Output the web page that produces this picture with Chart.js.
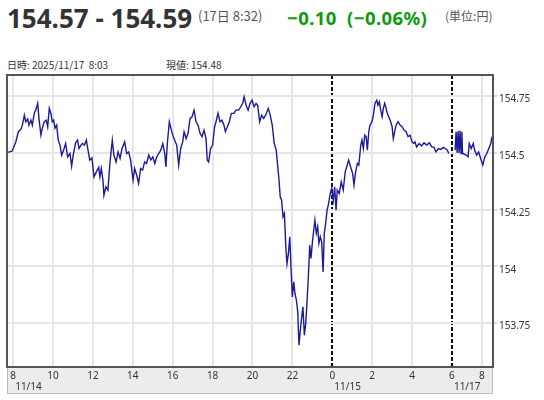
<!DOCTYPE html>
<html lang="ja">
<head>
<meta charset="utf-8">
<script src="https://cdn.jsdelivr.net/npm/chart.js@4.4.1/dist/chart.umd.min.js"></script>
<style>
  html, body { margin: 0; padding: 0; background: #fff; }
  body { width: 544px; height: 400px; position: relative; overflow: hidden; font-family: "Noto Sans CJK JP", "Noto Sans", sans-serif; }
  .hd { position: absolute; white-space: pre; line-height: 1; }
  #price { left: 7px; top: 0px; font: bold 26px "Noto Sans", sans-serif; color: #333; }
  #stamp { left: 198px; top: 9px; font-size: 13px; color: #555; }
  #change { left: 287px; top: 5px; font: bold 18.5px "Noto Sans", sans-serif; color: #0c9a0c; letter-spacing: 0.4px; }
  #unit { left: 445px; top: 10px; font-size: 12px; color: #555; }
  #when { left: 7px; top: 60px; font-size: 10px; color: #333; }
  #now { left: 166px; top: 60px; font-size: 10px; color: #333; }
  #chart { position: absolute; left: 0; top: 0; }
</style>
</head>
<body>
<div class="hd" id="price">154.57 - 154.59</div>
<div class="hd" id="stamp">(17日 8:32)</div>
<div class="hd" id="change">−0.10  (−0.06%)</div>
<div class="hd" id="unit">(単位:円)</div>
<div class="hd" id="when">日時: 2025/11/17  8:03</div>
<div class="hd" id="now">現値: 154.48</div>
<canvas id="chart" width="544" height="400"></canvas>
<script>
// x values are hours on the session timeline (11/14 8:00 = 8, 11/15 0:00 = 24, weekend removed)
const hourTicks = [8, 10, 12, 14, 16, 18, 20, 22, 24, 26, 28, 30, 31.5];
const hourLabels = ["8", "10", "12", "14", "16", "18", "20", "22", "0", "2", "4", "6", "8"];
const dateTicks = [8, 24, 30];
const dateLabels = ["11/14", "11/15", "11/17"];
const sessionBreaks = [24, 30];
const priceTicks = [153.75, 154, 154.25, 154.5, 154.75];

// 11/14 - 11/15 session
const fridayTimes = [
  7.69, 7.76, 7.94, 8.01, 8.13, 8.26, 8.39, 8.46, 8.56, 8.63, 8.73, 8.79, 8.89, 8.96, 9.06, 9.13,
  9.23, 9.29, 9.39, 9.46, 9.56, 9.66, 9.73, 9.81, 9.90, 9.96, 10.03, 10.10, 10.18, 10.26, 10.35,
  10.43, 10.53, 10.63, 10.73, 10.85, 10.93, 11.01, 11.13, 11.23, 11.30, 11.40, 11.47, 11.57, 11.67, 11.74,
  11.84, 11.95, 12.05, 12.17, 12.29, 12.35, 12.42, 12.50, 12.55, 12.65, 12.75, 12.85, 12.97, 13.05,
  13.16, 13.26, 13.36, 13.46, 13.59, 13.69, 13.79, 13.89, 14.01, 14.09, 14.19, 14.29, 14.39, 14.49,
  14.59, 14.69, 14.80, 14.90, 15.00, 15.10, 15.20, 15.30, 15.40, 15.50, 15.60, 15.66, 15.73, 15.83, 15.93, 16.03,
  16.14, 16.20, 16.30, 16.40, 16.50, 16.57, 16.67, 16.77, 16.87, 16.97, 17.07, 17.17, 17.27, 17.37,
  17.47, 17.57, 17.67, 17.73, 17.80, 17.90, 18.00, 18.10, 18.17, 18.27, 18.37, 18.47, 18.57, 18.64,
  18.74, 18.84, 18.94, 19.07, 19.17, 19.31, 19.41, 19.51, 19.58, 19.68, 19.78, 19.88, 19.98, 20.08,
  20.18, 20.26, 20.36, 20.46, 20.56, 20.66, 20.79, 20.89, 20.99,
  21.09, 21.19, 21.26, 21.33, 21.39, 21.46, 21.53, 21.60, 21.67, 21.73, 21.80, 21.87, 21.93, 22.00,
  22.07, 22.13, 22.20, 22.27, 22.33, 22.40, 22.47, 22.53, 22.60, 22.67, 22.73, 22.80, 22.87, 22.93,
  23.00, 23.07, 23.13, 23.20, 23.27, 23.33, 23.40, 23.47, 23.54, 23.60, 23.67, 23.74, 23.80, 23.90, 23.97,
  24.05, 24.12, 24.19, 24.25, 24.35, 24.45, 24.55, 24.65, 24.75, 24.82, 24.92, 25.02, 25.09, 25.16,
  25.26, 25.33, 25.43, 25.49, 25.56, 25.63, 25.70, 25.76, 25.83, 25.89, 25.99, 26.06, 26.14, 26.23,
  26.29, 26.36, 26.43, 26.50, 26.56, 26.63, 26.70, 26.76, 26.83, 26.93, 27.00, 27.06, 27.13, 27.20,
  27.30, 27.40, 27.50, 27.60, 27.70, 27.80, 27.90, 28.00, 28.08, 28.15, 28.23, 28.36, 28.48, 28.60,
  28.74, 28.87, 28.99, 29.10, 29.20, 29.32, 29.44, 29.57, 29.67, 29.77, 29.84
];
const fridayPrices = [
  154.504, 154.503, 154.507, 154.521, 154.548, 154.593, 154.604, 154.622, 154.666, 154.637, 154.649, 154.622, 154.644, 154.622, 154.676, 154.688,
  154.718, 154.653, 154.578, 154.609, 154.637, 154.644, 154.615, 154.696, 154.671, 154.637, 154.644, 154.609, 154.622, 154.556, 154.534,
  154.490, 154.512, 154.541, 154.482, 154.497, 154.441, 154.490, 154.544, 154.556, 154.519, 154.534, 154.541, 154.534, 154.556, 154.519,
  154.468, 154.477, 154.394, 154.416, 154.436, 154.394, 154.431, 154.380, 154.313, 154.350, 154.336, 154.453, 154.556, 154.490,
  154.460, 154.504, 154.475, 154.519, 154.548, 154.497, 154.504, 154.468, 154.380, 154.431, 154.402, 154.365, 154.431, 154.424,
  154.460, 154.453, 154.490, 154.468, 154.482, 154.453, 154.482, 154.497, 154.512, 154.541, 154.497, 154.438, 154.541, 154.637, 154.600, 154.571,
  154.547, 154.534, 154.446, 154.519, 154.548, 154.593, 154.563, 154.586, 154.652, 154.659, 154.688, 154.637, 154.622, 154.586,
  154.571, 154.600, 154.563, 154.468, 154.460, 154.519, 154.534, 154.615, 154.637, 154.674, 154.637, 154.644, 154.622, 154.593,
  154.615, 154.637, 154.674, 154.674, 154.688, 154.688, 154.703, 154.718, 154.747, 154.710, 154.688, 154.718, 154.732, 154.703,
  154.718, 154.710, 154.637, 154.666, 154.652, 154.666, 154.696, 154.666, 154.622,
  154.541, 154.512, 154.446, 154.380, 154.306, 154.291, 154.218, 154.233, 154.086, 154.012, 154.056, 154.130, 153.997, 153.865,
  153.931, 153.880, 153.851, 153.799, 153.652, 153.718, 153.777, 153.821, 153.696, 153.748, 153.836, 153.953, 154.093, 154.034,
  154.101, 154.159, 154.203, 154.145, 154.174, 154.101, 154.130, 154.108, 153.975, 154.145, 154.189, 154.247, 154.269, 154.321, 154.343,
  154.291, 154.350, 154.247, 154.336, 154.321, 154.372, 154.336, 154.416, 154.446, 154.468, 154.438, 154.409, 154.358, 154.409,
  154.453, 154.446, 154.534, 154.556, 154.519, 154.578, 154.571, 154.512, 154.593, 154.622, 154.637, 154.666, 154.718, 154.732,
  154.710, 154.725, 154.688, 154.659, 154.696, 154.718, 154.696, 154.674, 154.659, 154.637, 154.615, 154.563, 154.593, 154.622,
  154.637, 154.622, 154.615, 154.600, 154.593, 154.571, 154.578, 154.548, 154.541, 154.548, 154.526, 154.541, 154.530, 154.544,
  154.534, 154.544, 154.526, 154.524, 154.504, 154.519, 154.515, 154.524, 154.519, 154.512, 154.497
];

// 11/17 session
const mondayTimes = [
  30.16, 30.21, 30.26, 30.31, 30.36, 30.41, 30.46, 30.50, 30.53, 30.61, 30.71, 30.81, 30.87,
  30.97, 31.07, 31.14, 31.24, 31.34, 31.44, 31.55, 31.65, 31.75, 31.85, 31.95, 32.01
];
const mondayPrices = [
  154.512, 154.593, 154.501, 154.596, 154.499, 154.597, 154.497, 154.593, 154.499, 154.494, 154.490, 154.482, 154.541,
  154.519, 154.541, 154.512, 154.490, 154.504, 154.475, 154.446, 154.482, 154.497, 154.519, 154.541, 154.571
];

const LINE = "#1b1b9a";
const tickFont = { family: "Noto Sans", size: 10 };
const isBreak = c => c.tick && sessionBreaks.includes(c.tick.value);

const frame = {
  id: "frame",
  beforeDraw(chart) {
    const { ctx, chartArea: a, scales: { x } } = chart;
    ctx.save();
    ctx.fillStyle = "#ececec";
    ctx.fillRect(a.left, a.bottom, a.right - a.left, x.bottom - a.bottom);
    ctx.strokeStyle = "#bdbdbd";
    ctx.lineWidth = 1;
    ctx.strokeRect(a.left + 0.5, a.bottom, a.right - a.left - 1, x.bottom - a.bottom - 0.5);
    ctx.restore();
  },
  afterDraw(chart) {
    const { ctx, chartArea: a, scales: { x } } = chart;
    ctx.save();
    ctx.strokeStyle = "#555";
    ctx.lineWidth = 2;
    ctx.strokeRect(a.left, a.top, a.right - a.left, a.bottom - a.top);
    ctx.fillStyle = "#333";
    ctx.font = "10px 'Noto Sans'";
    ctx.textAlign = "left";
    ctx.textBaseline = "middle";
    dateTicks.forEach((v, i) => ctx.fillText(dateLabels[i], x.getPixelForValue(v) + 2, a.bottom + 20));
    ctx.restore();
  }
};

new Chart(document.getElementById("chart"), {
  type: "line",
  data: {
    datasets: [
      { data: fridayTimes.map((t, i) => ({ x: t, y: fridayPrices[i] })), borderColor: LINE, borderWidth: 1.4, pointRadius: 0, tension: 0 },
      { data: mondayTimes.map((t, i) => ({ x: t, y: mondayPrices[i] })), borderColor: LINE, borderWidth: 1.4, pointRadius: 0, tension: 0 }
    ]
  },
  options: {
    responsive: false,
    animation: false,
    layout: { padding: { left: 7, top: 75, right: 0, bottom: 6 } },
    plugins: { legend: { display: false }, tooltip: { enabled: false } },
    scales: {
      x: {
        type: "linear",
        min: 7.69,
        max: 32.06,
        afterBuildTicks: s => { s.ticks = hourTicks.map(v => ({ value: v })); },
        afterFit: s => { s.height = 27; },
        ticks: { autoSkip: false, maxRotation: 0, padding: 3, color: "#333", font: tickFont, callback: (v, i) => hourLabels[i] },
        grid: { color: c => isBreak(c) ? "#111" : "#e6e6e6", lineWidth: 2, drawTicks: false },
        border: { display: false, dash: c => isBreak(c) ? [4, 2] : [] }
      },
      y: {
        position: "right",
        min: 153.556,
        max: 154.843,
        afterBuildTicks: s => { s.ticks = priceTicks.map(v => ({ value: v })); },
        afterFit: s => { s.width = 51; },
        ticks: { padding: 2, labelOffset: 3.5, color: "#333", font: tickFont, callback: v => String(v) },
        grid: { color: "#e6e6e6", lineWidth: 2, tickColor: "#aaa", tickLength: 4, tickWidth: 1 },
        border: { display: false }
      }
    }
  },
  plugins: [frame]
});
</script>
</body>
</html>
